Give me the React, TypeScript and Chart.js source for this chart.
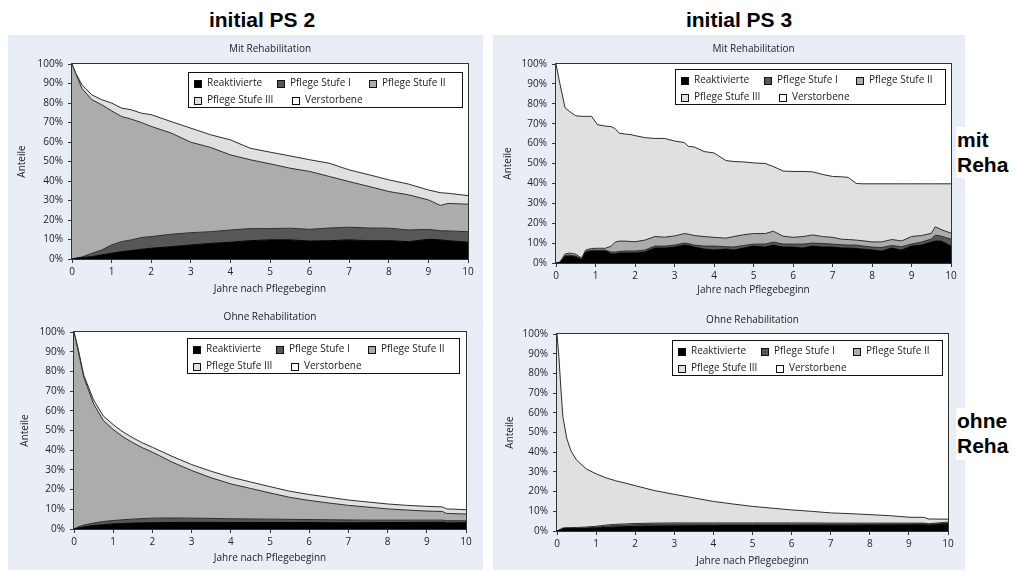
import { useEffect, useRef } from "react";
import { Chart, registerables } from "chart.js";

Chart.register(...registerables);

const FONT = "'Open Sans', 'DejaVu Sans', sans-serif";
const TEXT_COLOR = "#222222";
const PANEL_BG = "#e9edf6";

// ---- labels ----
const SERIES_LABELS = ["Reaktivierte", "Pflege Stufe I", "Pflege Stufe II", "Pflege Stufe III", "Verstorbene"];
const SERIES_COLORS = ["#000000", "#575757", "#acacac", "#e0e0e0", "#ffffff"];
const X_TICK_LABELS = ["0", "1", "2", "3", "4", "5", "6", "7", "8", "9", "10"];
const Y_TICK_LABELS = ["0%", "10%", "20%", "30%", "40%", "50%", "60%", "70%", "80%", "90%", "100%"];
const X_TITLE = "Jahre nach Pflegebeginn";
const Y_TITLE = "Anteile";
const COLUMN_TITLES = ["initial PS 2", "initial PS 3"];
const ROW_LABELS = [["mit", "Reha"], ["ohne", "Reha"]];

// ---- data: cumulative upper edge (%) of each stacked band ----
// initial PS 2, mit Rehabilitation
const PS2_MIT_JAHRE = [0, 0.1, 0.25, 0.5, 0.75, 1, 1.25, 1.5, 1.75, 2, 2.5, 3, 3.5, 4, 4.5, 5, 5.5, 6, 6.5, 7, 7.5, 8, 8.5, 9, 9.3, 9.5, 10];
const PS2_MIT_REAKTIVIERTE = [0, 0.3, 0.8, 1.2, 2.1, 2.9, 3.8, 4.3, 5, 5.5, 6.3, 7.2, 8, 8.6, 9.4, 9.8, 9.8, 9.2, 9.4, 9.8, 9.4, 9.4, 8.9, 10.1, 9.8, 9.4, 8.6];
const PS2_MIT_BIS_STUFE_I = [0, 0.5, 1, 2.9, 4.6, 7.2, 8.9, 9.8, 11, 11.5, 12.7, 13.5, 14, 14.9, 15.6, 15.6, 15.8, 15.2, 15.9, 16.3, 15.9, 15.8, 14.9, 15.2, 14.5, 14.4, 14];
const PS2_MIT_BIS_STUFE_II = [100, 95, 87.5, 81.7, 79.1, 76, 73.1, 71.7, 70, 68, 64.6, 59.9, 57.2, 53.4, 50.9, 48.8, 46.6, 44.9, 42.3, 39.7, 37.2, 34.6, 32.9, 30.3, 27.5, 28.5, 28.1];
const PS2_MIT_BIS_STUFE_III = [100, 95, 89.4, 84.2, 81.7, 80, 77.4, 76.5, 74.8, 74, 70.5, 67.1, 63.7, 61.1, 56.8, 54.8, 52.9, 50.9, 49.1, 45.7, 43.2, 40.6, 38.4, 35.4, 34, 33.7, 32.5];

// initial PS 3, mit Rehabilitation
const PS3_MIT_JAHRE = [0, 0.1, 0.23, 0.35, 0.5, 0.65, 0.75, 0.9, 1.05, 1.25, 1.4, 1.5, 1.6, 1.75, 1.9, 2, 2.25, 2.5, 2.75, 3, 3.25, 3.35, 3.5, 3.75, 4, 4.3, 4.5, 4.75, 5, 5.3, 5.5, 5.75, 6, 6.25, 6.5, 6.75, 7, 7.25, 7.4, 7.6, 7.75, 8, 8.25, 8.5, 8.75, 9, 9.25, 9.5, 9.6, 9.75, 10];
const PS3_MIT_REAKTIVIERTE = [0, 0.2, 3.2, 3.5, 3, 1.5, 5.3, 6, 6, 6, 4.6, 4.5, 5, 5, 5, 5, 5.5, 7.5, 7.5, 8, 9, 8.8, 8, 7, 6.5, 7, 6.5, 7.5, 8.5, 8, 9, 8, 8, 7.5, 8.5, 8, 8, 7.5, 7.5, 7.3, 7, 6.5, 6, 7.5, 6.5, 8.5, 9, 10.5, 11, 11, 8.5];
const PS3_MIT_BIS_STUFE_I = [0, 0.3, 3.8, 4, 3.5, 2, 5.8, 6.5, 6.5, 6.5, 5.5, 5.5, 5.8, 6, 6, 6, 6.5, 8.5, 8.5, 9, 10, 9.8, 9, 8.5, 8.5, 8.2, 8, 8.8, 9.5, 9.5, 10.5, 9.5, 9.5, 9.5, 10, 9.8, 9.5, 9.2, 9, 9, 8.6, 8, 7.8, 8.8, 8.2, 9.5, 10.5, 12, 14, 13.5, 12];
const PS3_MIT_BIS_STUFE_II = [0, 0.5, 4.5, 5, 4.4, 2.5, 6.5, 7.3, 7.4, 7.4, 8.5, 10.5, 11, 11, 10.8, 10.7, 11.5, 13.3, 13, 13.6, 14.8, 14.5, 13.8, 13.3, 12.9, 12.5, 13.3, 14.2, 14.8, 14.8, 16, 13.5, 12.9, 13.3, 14.1, 13.3, 12.9, 11.9, 11.8, 11.5, 11.2, 10.6, 10.6, 11.8, 11.1, 13.3, 13.8, 14.9, 18.2, 16.8, 15];
const PS3_MIT_BIS_STUFE_III = [100, 90, 78, 76, 74, 73.7, 73.7, 73.7, 69.5, 68.8, 68.5, 67.5, 65.2, 64.8, 64.5, 64, 63, 62.6, 62.6, 61.3, 60.5, 58.6, 58.3, 56, 55.3, 51.5, 51, 50.8, 50.3, 50, 48.5, 46.2, 46, 46, 45.8, 44.5, 43.5, 43.3, 43, 40, 39.8, 39.8, 39.8, 39.8, 39.8, 39.8, 39.8, 39.8, 39.8, 39.8, 39.8];

// initial PS 2, ohne Rehabilitation
const PS2_OHNE_JAHRE = [0, 0.1, 0.25, 0.5, 0.75, 1, 1.25, 1.5, 1.75, 2, 2.5, 3, 3.5, 4, 4.5, 5, 5.5, 6, 6.5, 7, 7.5, 8, 8.5, 9, 9.4, 9.5, 10];
const PS2_OHNE_REAKTIVIERTE = [0, 0.5, 1, 1.8, 2.2, 2.6, 2.8, 3, 3.1, 3.2, 3.3, 3.4, 3.4, 3.3, 3.3, 3.3, 3.3, 3.3, 3.2, 3.2, 3.2, 3.3, 3.3, 3.4, 3.4, 3.1, 3.2];
const PS2_OHNE_BIS_STUFE_I = [0, 1, 2, 3, 3.8, 4.3, 4.7, 5, 5.3, 5.5, 5.6, 5.5, 5.4, 5.2, 5.1, 5, 4.9, 4.8, 4.7, 4.6, 4.5, 4.5, 4.5, 4.5, 4.5, 4.2, 4.2];
const PS2_OHNE_BIS_STUFE_II = [100, 91, 77, 63.5, 55, 50.5, 46.8, 43.8, 41.2, 39, 34, 29.7, 26, 22.9, 20.6, 18.3, 16.1, 14.5, 13.2, 12, 11.1, 10.2, 9.6, 9.1, 8.9, 7.9, 7.6];
const PS2_OHNE_BIS_STUFE_III = [100, 92, 78, 65.5, 57.3, 53, 49.3, 46.3, 43.7, 41.5, 36.9, 32.7, 29.3, 26.3, 23.9, 21.5, 19.2, 17.5, 16.1, 14.7, 13.7, 12.7, 12, 11.5, 11.2, 10.2, 9.8];

// initial PS 3, ohne Rehabilitation
const PS3_OHNE_JAHRE = [0, 0.05, 0.1, 0.15, 0.25, 0.35, 0.5, 0.75, 1, 1.25, 1.5, 1.75, 2, 2.5, 3, 3.5, 4, 4.5, 5, 5.5, 6, 6.5, 7, 7.5, 8, 8.5, 9, 9.4, 9.5, 10];
const PS3_OHNE_REAKTIVIERTE = [0, 0.3, 0.6, 1, 1.2, 1.2, 1.2, 1.3, 1.5, 1.8, 2, 2.2, 2.4, 2.5, 2.6, 2.7, 2.7, 2.8, 2.8, 2.8, 2.8, 2.9, 2.9, 2.9, 3, 3, 3.1, 3.2, 2.9, 3.6];
const PS3_OHNE_BIS_STUFE_I = [0, 0.4, 0.8, 1.2, 1.4, 1.4, 1.4, 1.6, 1.9, 2.4, 2.8, 3, 3.2, 3.4, 3.5, 3.5, 3.5, 3.5, 3.5, 3.5, 3.5, 3.5, 3.5, 3.5, 3.5, 3.6, 3.6, 3.7, 3.4, 4];
const PS3_OHNE_BIS_STUFE_II = [0, 0.5, 1, 1.5, 1.7, 1.7, 1.8, 2, 2.4, 3, 3.4, 3.6, 3.8, 4, 4.1, 4.1, 4.1, 4.1, 4.1, 4.1, 4.1, 4.1, 4, 4, 4, 4, 4, 4, 3.7, 4.5];
const PS3_OHNE_BIS_STUFE_III = [100, 88, 72, 58, 47, 41, 36, 31.5, 29, 27, 25.5, 24.3, 23, 20.5, 18.6, 16.8, 15, 13.7, 12.5, 11.6, 10.7, 10, 9.2, 8.8, 8.3, 7.8, 7, 6.9, 6.1, 6];

type PanelSpec = {
  title: string;
  years: number[];
  bands: number[][];
  left: number;
  top: number;
  width: number;
  height: number;
  yAxisWidth: number;
  xAxisHeight: number;
  padRight: number;
  titlePad: [number, number];
  yTitlePad: number;
  xTitlePad: number;
  legendInset: [number, number];
  legendWidth: number;
};

const PANELS: PanelSpec[] = [
  {
    title: "Mit Rehabilitation",
    years: PS2_MIT_JAHRE,
    bands: [PS2_MIT_REAKTIVIERTE, PS2_MIT_BIS_STUFE_I, PS2_MIT_BIS_STUFE_II, PS2_MIT_BIS_STUFE_III],
    left: 8, top: 35, width: 475, height: 265,
    yAxisWidth: 64, xAxisHeight: 41, padRight: 15,
    titlePad: [8.5, 8.5], yTitlePad: 8, xTitlePad: 4.5,
    legendInset: [5, 8], legendWidth: 275,
  },
  {
    title: "Mit Rehabilitation",
    years: PS3_MIT_JAHRE,
    bands: [PS3_MIT_REAKTIVIERTE, PS3_MIT_BIS_STUFE_I, PS3_MIT_BIS_STUFE_II, PS3_MIT_BIS_STUFE_III],
    left: 493, top: 35, width: 470, height: 265,
    yAxisWidth: 63, xAxisHeight: 37, padRight: 12,
    titlePad: [8, 9], yTitlePad: 9, xTitlePad: 4,
    legendInset: [5, 5], legendWidth: 271,
  },
  {
    title: "Ohne Rehabilitation",
    years: PS2_OHNE_JAHRE,
    bands: [PS2_OHNE_REAKTIVIERTE, PS2_OHNE_BIS_STUFE_I, PS2_OHNE_BIS_STUFE_II, PS2_OHNE_BIS_STUFE_III],
    left: 8, top: 300, width: 475, height: 270,
    yAxisWidth: 66, xAxisHeight: 41, padRight: 17,
    titlePad: [11, 9], yTitlePad: 11, xTitlePad: 6,
    legendInset: [6, 6], legendWidth: 273,
  },
  {
    title: "Ohne Rehabilitation",
    years: PS3_OHNE_JAHRE,
    bands: [PS3_OHNE_REAKTIVIERTE, PS3_OHNE_BIS_STUFE_I, PS3_OHNE_BIS_STUFE_II, PS3_OHNE_BIS_STUFE_III],
    left: 493, top: 300, width: 470, height: 270,
    yAxisWidth: 64, xAxisHeight: 39, padRight: 15,
    titlePad: [14, 8], yTitlePad: 11, xTitlePad: 3,
    legendInset: [5, 6], legendWidth: 271,
  },
];

// legend layout: [dataset index, x offset] per row
const LEGEND_ROWS: [number, number][][] = [
  [[0, 6], [1, 89], [2, 181]],
  [[3, 6], [4, 104]],
];
const LEGEND_ROW_Y = [11.5, 28.5];
const LEGEND_HEIGHT = 36;

const framePlugin = {
  id: "plotFrame",
  beforeDatasetsDraw(chart: any) {
    const { ctx, chartArea: a } = chart;
    ctx.save();
    ctx.fillStyle = "#ffffff";
    ctx.fillRect(a.left, a.top, a.right - a.left, a.bottom - a.top);
    ctx.restore();
  },
  afterDraw(chart: any) {
    const { ctx, chartArea: a } = chart;
    ctx.save();
    ctx.strokeStyle = "#333333";
    ctx.lineWidth = 1;
    const l = Math.round(a.left) - 0.5;
    const t = Math.round(a.top) - 0.5;
    const r = Math.round(a.right) + 0.5;
    const b = Math.round(a.bottom) + 0.5;
    ctx.strokeRect(l, t, r - l, b - t);
    ctx.restore();
  },
};

const boxLegendPlugin = {
  id: "boxLegend",
  afterDraw(chart: any, _args: any, opts: any) {
    const { ctx, chartArea: a } = chart;
    const w = opts.width;
    const x0 = Math.round(a.right - opts.insetRight - w);
    const y0 = Math.round(a.top + opts.insetTop);
    ctx.save();
    ctx.fillStyle = "#ffffff";
    ctx.fillRect(x0, y0, w, LEGEND_HEIGHT);
    ctx.strokeStyle = "#111111";
    ctx.lineWidth = 1;
    ctx.strokeRect(x0 + 0.5, y0 + 0.5, w - 1, LEGEND_HEIGHT - 1);
    ctx.font = `10px ${FONT}`;
    ctx.textBaseline = "middle";
    ctx.textAlign = "left";
    const ds = chart.data.datasets;
    LEGEND_ROWS.forEach((row, r) => {
      const cy = y0 + LEGEND_ROW_Y[r];
      row.forEach(([idx, dx]) => {
        const d = ds[idx];
        const sx = x0 + dx;
        const sy = Math.round(cy - 4);
        ctx.fillStyle = d.backgroundColor;
        ctx.fillRect(sx, sy, 8, 8);
        ctx.strokeStyle = "#111111";
        ctx.strokeRect(sx + 0.5, sy + 0.5, 7, 7);
        ctx.fillStyle = TEXT_COLOR;
        ctx.fillText(d.label, sx + 13, cy);
      });
    });
    ctx.restore();
  },
};

function ChartPanel({ spec }: { spec: PanelSpec }) {
  const ref = useRef<HTMLCanvasElement | null>(null);
  useEffect(() => {
    if (!ref.current) return;
    const font = { family: FONT, size: 10, weight: "normal" as const };
    const datasets = SERIES_LABELS.map((label, i) => ({
      label,
      data: i < 4 ? spec.years.map((x, k) => ({ x, y: spec.bands[i][k] })) : [],
      backgroundColor: SERIES_COLORS[i],
      borderColor: i === 0 ? "#000000" : "#2e2e2e",
      borderWidth: 1,
      fill: i === 0 ? "origin" : "-1",
      pointRadius: 0,
      tension: 0,
    }));
    const chart = new Chart(ref.current, {
      type: "line",
      data: { datasets: datasets as any },
      plugins: [framePlugin, boxLegendPlugin],
      options: {
        animation: false,
        responsive: false,
        devicePixelRatio: 1,
        events: [],
        layout: { padding: { left: 0, top: 0, right: spec.padRight, bottom: 0 } },
        plugins: {
          legend: { display: false },
          tooltip: { enabled: false },
          title: {
            display: true,
            text: spec.title,
            fullSize: false,
            color: TEXT_COLOR,
            font,
            padding: { top: spec.titlePad[0], bottom: spec.titlePad[1] },
          },
          boxLegend: { width: spec.legendWidth, insetRight: spec.legendInset[0], insetTop: spec.legendInset[1] },
        } as any,
        scales: {
          x: {
            type: "linear",
            min: 0,
            max: 10,
            afterFit: (s: any) => {
              s.height = spec.xAxisHeight;
            },
            ticks: {
              stepSize: 1,
              autoSkip: false,
              maxRotation: 0,
              padding: 3,
              color: TEXT_COLOR,
              font,
              callback: (_v: any, i: number) => X_TICK_LABELS[i],
            },
            grid: { drawOnChartArea: false, drawTicks: true, tickLength: 4, color: "#333333" },
            border: { display: false },
            title: { display: true, text: X_TITLE, color: TEXT_COLOR, font, padding: { top: 0, bottom: spec.xTitlePad } },
          },
          y: {
            min: 0,
            max: 100,
            afterFit: (s: any) => {
              s.width = spec.yAxisWidth;
            },
            ticks: {
              stepSize: 10,
              padding: 5,
              color: TEXT_COLOR,
              font,
              callback: (_v: any, i: number) => Y_TICK_LABELS[i],
            },
            grid: { drawOnChartArea: false, drawTicks: true, tickLength: 4, color: "#333333" },
            border: { display: false },
            title: { display: true, text: Y_TITLE, color: TEXT_COLOR, font, padding: { top: spec.yTitlePad, bottom: 0 } },
          },
        },
      } as any,
    });
    return () => chart.destroy();
  }, [spec]);
  return (
    <canvas
      ref={ref}
      width={spec.width}
      height={spec.height}
      style={{ position: "absolute", left: spec.left, top: spec.top, width: spec.width, height: spec.height }}
    />
  );
}

const headerStyle = {
  position: "absolute" as const,
  width: 200,
  top: 8,
  textAlign: "center" as const,
  fontFamily: "'Liberation Sans', Arial, sans-serif",
  fontWeight: "bold" as const,
  fontSize: 21,
  lineHeight: "24px",
  color: "#000",
};

const rowLabelStyle = {
  position: "absolute" as const,
  left: 956,
  width: 58,
  paddingLeft: 1,
  background: "#ffffff",
  fontFamily: "'Liberation Sans', Arial, sans-serif",
  fontWeight: "bold" as const,
  fontSize: 21,
  lineHeight: "25px",
  color: "#000",
};

export default function App() {
  return (
    <div style={{ position: "fixed", left: 0, top: 0, width: 1015, height: 571, background: "#ffffff", overflow: "hidden" }}>
      <div style={{ position: "absolute", left: 8, top: 35, width: 475, height: 535, background: PANEL_BG }} />
      <div style={{ position: "absolute", left: 493, top: 35, width: 472, height: 535, background: PANEL_BG }} />
      <div style={{ ...headerStyle, left: 162 }}>{COLUMN_TITLES[0]}</div>
      <div style={{ ...headerStyle, left: 639 }}>{COLUMN_TITLES[1]}</div>
      {PANELS.map((p, i) => (
        <ChartPanel key={i} spec={p} />
      ))}
      <div style={{ ...rowLabelStyle, top: 127, height: 51 }}>
        {ROW_LABELS[0][0]}
        <br />
        {ROW_LABELS[0][1]}
      </div>
      <div style={{ ...rowLabelStyle, top: 408, height: 52 }}>
        {ROW_LABELS[1][0]}
        <br />
        {ROW_LABELS[1][1]}
      </div>
    </div>
  );
}
